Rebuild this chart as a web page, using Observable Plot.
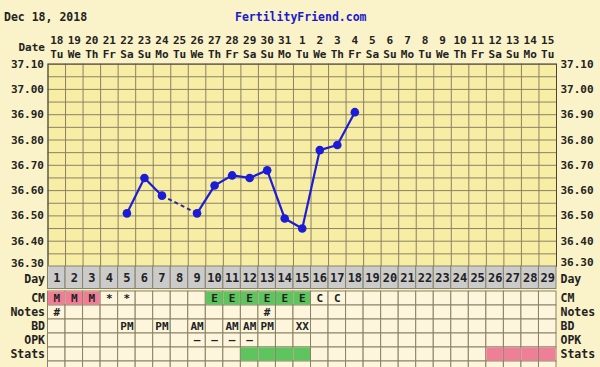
<!DOCTYPE html>
<html>
<head>
<meta charset="utf-8">
<script src="https://cdn.jsdelivr.net/npm/d3@7"></script>
<script src="https://cdn.jsdelivr.net/npm/@observablehq/plot@0.6"></script>
<style>
  html, body { margin: 0; padding: 0; background: #faf2c8; overflow: hidden; }
  #wrap { position: relative; width: 600px; height: 367px; overflow: hidden;
          font-family: "DejaVu Sans Mono", monospace; font-weight: bold; }
  .abs { position: absolute; left: 0; line-height: 0; }
  .hdr { position: absolute; top: 9px; font-size: 11.5px; line-height: 16px; }
  svg { display: block; overflow: visible; }
</style>
</head>
<body>
<div id="wrap">
  <div class="hdr" style="left:4px;color:#222;">Dec 18, 2018</div>
  <div class="hdr" style="left:235px;color:#1a1acc;">FertilityFriend.com</div>
  <div id="a" class="abs" style="top:26px"></div>
  <div id="b" class="abs" style="top:266px"></div>
  <div id="c" class="abs" style="top:288.5px"></div>
</div>
<script>
// ---------- data ----------
const dates = ["18","19","20","21","22","23","24","25","26","27","28","29","30","31",
               "1","2","3","4","5","6","7","8","9","10","11","12","13","14","15"];
const weekdays = ["Tu","We","Th","Fr","Sa","Su","Mo","Tu","We","Th","Fr","Sa","Su","Mo",
                  "Tu","We","Th","Fr","Sa","Su","Mo","Tu","We","Th","Fr","Sa","Su","Mo","Tu"];
const cycleDays = d3.range(1, 30);
const tempDays = [5, 6, 7, 9, 10, 11, 12, 13, 14, 15, 16, 17, 18];
const temps    = [36.51, 36.65, 36.58, 36.51, 36.62, 36.66, 36.65, 36.68, 36.49, 36.45, 36.76, 36.78, 36.91];
const tempTicks = [37.10, 37.00, 36.90, 36.80, 36.70, 36.60, 36.50, 36.40, 36.30];
const rowNames = ["CM", "Notes", "BD", "OPK", "Stats", ""];
const cmDays  = [1, 2, 3, 4, 5, 10, 11, 12, 13, 14, 15, 16, 17];
const cmText  = ["M","M","M","*","*","E","E","E","E","E","E","C","C"];
const notesDays = [1, 13];
const notesText = ["#", "#"];
const bdDays = [5, 7, 9, 11, 12, 13, 15];
const bdText = ["PM","PM","AM","AM","AM","PM","XX"];
const opkDays = [9, 10, 11, 12];
const opkText = ["–","–","–","–"];
const statsGood = [12, 13, 14, 15];
const statsBad  = [26, 27, 28, 29];

// ---------- styles ----------
const FONT = "DejaVu Sans Mono";
const GRID = "#8a8266";
const INK = "#222";
const BLUE = "#1c1cd6";
const PINK = "#ef7f97";
const GREEN = "#5ec45e";
const CREAM = "#fdf6dc";
const X = {domain: [0, 29], axis: null};
const common = {width: 600, marginLeft: 47.5, marginRight: 44, x: X,
  style: {background: "transparent", overflow: "visible", fontFamily: FONT, fontWeight: "bold"}};

// ---------- temperature chart ----------
const pts = tempDays.map((d, i) => ({day: d, t: temps[i]}));
const segs = d3.pairs(pts).map(([a, b]) => ({a, b, gap: b.day - a.day > 1}));
const fine = d3.range(0, 17).map(i => 36.30 + i * 0.05);
const upperTicks = tempTicks.slice(0, -1);
const lowTick = tempTicks.slice(-1);

const A = Plot.plot({
  ...common, height: 240, marginTop: 37.6, marginBottom: 0,
  y: {domain: [36.3, 37.1], axis: null},
  marks: [
    Plot.frame({fill: "#f8eda4"}),
    Plot.ruleY(fine, {y: d => d, stroke: GRID, strokeWidth: 1, strokeOpacity: 1}),
    Plot.ruleX(d3.range(0, 30), {x: d => d, stroke: GRID, strokeWidth: 1, strokeOpacity: 1}),
    Plot.frame({stroke: "#4a4636"}),
    Plot.text(upperTicks, {x: 0, y: d => d, text: d => d.toFixed(2), textAnchor: "end", dx: -4, fontSize: 11, fill: INK}),
    Plot.text(upperTicks, {x: 29, y: d => d, text: d => d.toFixed(2), textAnchor: "start", dx: 4, fontSize: 11, fill: INK}),
    Plot.text(lowTick, {x: 0, y: d => d, text: d => d.toFixed(2), textAnchor: "end", dx: -4, dy: -3, fontSize: 11, fill: INK}),
    Plot.text(lowTick, {x: 29, y: d => d, text: d => d.toFixed(2), textAnchor: "start", dx: 4, dy: -4, fontSize: 11, fill: INK}),
    Plot.text(dates, {x: (d, i) => cycleDays[i] - 0.5, text: d => d, frameAnchor: "top", dy: -27.5, fontSize: 11, fill: INK}),
    Plot.text(weekdays, {x: (d, i) => cycleDays[i] - 0.5, text: d => d, frameAnchor: "top", dy: -14, fontSize: 11, fill: INK}),
    Plot.text(["Date"], {x: 0, text: d => d, frameAnchor: "top", dy: -20.5, dx: -3, textAnchor: "end", fontSize: 11, fill: INK}),
    Plot.link(segs.filter(s => !s.gap), {x1: s => s.a.day - 0.5, y1: s => s.a.t, x2: s => s.b.day - 0.5, y2: s => s.b.t,
      stroke: BLUE, strokeWidth: 2.2}),
    Plot.link(segs.filter(s => s.gap), {x1: s => s.a.day - 0.5, y1: s => s.a.t, x2: s => s.b.day - 0.5, y2: s => s.b.t,
      stroke: "#2a2a9a", strokeWidth: 2, strokeDasharray: "4,3"}),
    Plot.dot(pts, {x: d => d.day - 0.5, y: "t", r: 4.3, fill: BLUE, stroke: "none"})
  ]
});
document.getElementById("a").append(A);

// ---------- day row ----------
const B = Plot.plot({
  ...common, height: 22.5, marginTop: 0, marginBottom: 0,
  marks: [
    Plot.barX(cycleDays, {x1: d => d - 1, x2: d => d, fill: "#cbcbcb", stroke: GRID, strokeWidth: 1, inset: 0}),
    Plot.text(cycleDays, {x: d => d - 0.5, text: d => String(d), frameAnchor: "middle", fontSize: 12, fill: INK}),
    Plot.text(["Day"], {x: 0, text: d => d, frameAnchor: "middle", textAnchor: "end", dx: -3, dy: 2, fontSize: 11.5, fill: INK}),
    Plot.text(["Day"], {x: 29, text: d => d, frameAnchor: "middle", textAnchor: "start", dx: 4, dy: 2, fontSize: 11.5, fill: INK})
  ]
});
document.getElementById("b").append(B);

// ---------- detail rows ----------
const grid = rowNames.flatMap(r => cycleDays.map(d => ({r, d})));
const rowText = (days, texts, r) => days.map((d, i) => ({d, r, t: texts[i]}));
const cm = rowText(cmDays, cmText, "CM");
const notes = rowText(notesDays, notesText, "Notes");
const bd = rowText(bdDays, bdText, "BD");
const opk = rowText(opkDays, opkText, "OPK");
const fills = [
  ...cm.filter(c => c.t === "M").map(c => ({d: c.d, r: "CM", f: PINK})),
  ...cm.filter(c => c.t === "E").map(c => ({d: c.d, r: "CM", f: GREEN})),
  ...statsGood.map(d => ({d, r: "Stats", f: GREEN})),
  ...statsBad.map(d => ({d, r: "Stats", f: PINK}))
];
const C = Plot.plot({
  ...common, height: 87, marginTop: 0, marginBottom: 0,
  y: {domain: rowNames, padding: 0, axis: null},
  marks: [
    Plot.barX(grid, {x1: c => c.d - 1, x2: c => c.d, y: "r", fill: CREAM, stroke: GRID, strokeWidth: 1, inset: 0}),
    Plot.barX(fills, {x1: c => c.d - 1, x2: c => c.d, y: "r", fill: "f", stroke: "none", inset: 0.5}),
    Plot.text([...cm, ...notes, ...bd, ...opk], {x: c => c.d - 0.5, y: "r", text: "t", fontSize: 11, fill: INK}),
    Plot.text(rowNames, {x: 0, y: d => d, text: d => d, textAnchor: "end", dx: -3, fontSize: 11.5, fill: INK}),
    Plot.text(rowNames, {x: 29, y: d => d, text: d => d, textAnchor: "start", dx: 4, fontSize: 11.5, fill: INK})
  ]
});
document.getElementById("c").append(C);
</script>
</body>
</html>
